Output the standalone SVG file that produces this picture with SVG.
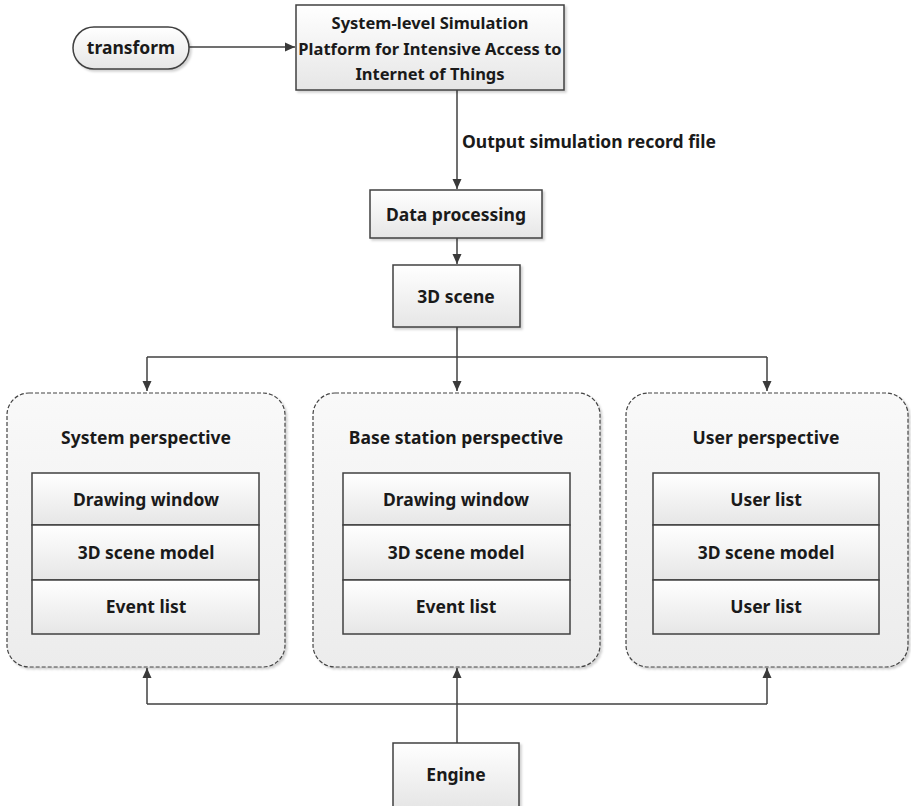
<svg xmlns="http://www.w3.org/2000/svg" width="911" height="806" viewBox="0 0 911 806">
<defs>
<linearGradient id="boxg" x1="0" y1="0" x2="0" y2="1">
<stop offset="0" stop-color="#ffffff"/>
<stop offset="1" stop-color="#e6e6e6"/>
</linearGradient>
<linearGradient id="pang" x1="0" y1="0" x2="0" y2="1">
<stop offset="0" stop-color="#f9f9f9"/>
<stop offset="1" stop-color="#ececec"/>
</linearGradient>
<marker id="arr" viewBox="0 0 10 10" refX="10" refY="5" markerWidth="10" markerHeight="10" markerUnits="userSpaceOnUse" orient="auto">
<path d="M0,0.5 L10,5 L0,9.5 z" fill="#3a3a3a"/>
</marker>
<filter id="sh" x="-5%" y="-5%" width="115%" height="115%">
<feDropShadow dx="2" dy="2" stdDeviation="1.2" flood-color="#000" flood-opacity="0.18"/>
</filter>
</defs>
<style>
.box{fill:url(#boxg);stroke:#404040;stroke-width:1.5;filter:url(#sh)}
.row{fill:url(#boxg);stroke:#404040;stroke-width:1.5}
.pan{fill:url(#pang);stroke:#444444;stroke-width:1.2;stroke-dasharray:4 2;filter:url(#sh)}
.t{font-family:"Noto Sans","Liberation Sans",sans-serif;font-weight:bold;font-size:17.5px;fill:#1a1a1a;text-anchor:middle;dominant-baseline:central}
.s{font-size:16.5px}
.c{fill:none;stroke:#404040;stroke-width:1.5}
</style>
<rect width="911" height="806" fill="#ffffff"/>

<g id="connectors">
<path class="c" d="M189,47 H295" marker-end="url(#arr)"/>
<path class="c" d="M457,90 V189" marker-end="url(#arr)"/>
<path class="c" d="M457,238 V264" marker-end="url(#arr)"/>
<path class="c" d="M457,327 V391" marker-end="url(#arr)"/>
<path class="c" d="M147,357 H767"/>
<path class="c" d="M147,357 V391" marker-end="url(#arr)"/>
<path class="c" d="M767,357 V391" marker-end="url(#arr)"/>
<path class="c" d="M457,743 V668" marker-end="url(#arr)"/>
<path class="c" d="M147,704 H767"/>
<path class="c" d="M147,704 V668" marker-end="url(#arr)"/>
<path class="c" d="M767,704 V668" marker-end="url(#arr)"/>
<text class="t" x="462" y="141" style="text-anchor:start">Output simulation record file</text>
</g>

<g id="transform">
<rect class="box" x="73" y="27" width="116" height="42" rx="21" ry="21"/>
<text class="t" x="131" y="47">transform</text>
</g>

<g id="platform">
<rect class="box" x="296" y="5" width="268" height="85"/>
<text class="t s" x="430" y="22">System-level Simulation</text>
<text class="t s" x="430" y="48">Platform for Intensive Access to</text>
<text class="t s" x="430" y="73">Internet of Things</text>
</g>

<g id="data-processing">
<rect class="box" x="370" y="190" width="172" height="48"/>
<text class="t" x="456" y="214">Data processing</text>
</g>

<g id="scene3d">
<rect class="box" x="393" y="265" width="127" height="62"/>
<text class="t" x="456" y="296">3D scene</text>
</g>

<g id="system-perspective">
<rect class="pan" x="7" y="393" width="278" height="274" rx="22" ry="22"/>
<text class="t" x="146" y="437">System perspective</text>
<rect class="row" x="32" y="473" width="227" height="52"/>
<rect class="row" x="32" y="525" width="227" height="55"/>
<rect class="row" x="32" y="580" width="227" height="54"/>
<text class="t" x="146" y="499">Drawing window</text>
<text class="t" x="146" y="552">3D scene model</text>
<text class="t" x="146" y="606">Event list</text>
</g>

<g id="base-station-perspective">
<rect class="pan" x="313" y="393" width="287" height="274" rx="22" ry="22"/>
<text class="t" x="456" y="437">Base station perspective</text>
<rect class="row" x="343" y="473" width="227" height="52"/>
<rect class="row" x="343" y="525" width="227" height="55"/>
<rect class="row" x="343" y="580" width="227" height="54"/>
<text class="t" x="456" y="499">Drawing window</text>
<text class="t" x="456" y="552">3D scene model</text>
<text class="t" x="456" y="606">Event list</text>
</g>

<g id="user-perspective">
<rect class="pan" x="626" y="393" width="282" height="274" rx="22" ry="22"/>
<text class="t" x="766" y="437">User perspective</text>
<rect class="row" x="653" y="473" width="226" height="52"/>
<rect class="row" x="653" y="525" width="226" height="55"/>
<rect class="row" x="653" y="580" width="226" height="54"/>
<text class="t" x="766" y="499">User list</text>
<text class="t" x="766" y="552">3D scene model</text>
<text class="t" x="766" y="606">User list</text>
</g>

<g id="engine">
<rect class="box" x="393" y="743" width="126" height="64"/>
<text class="t" x="456" y="774">Engine</text>
</g>
</svg>
